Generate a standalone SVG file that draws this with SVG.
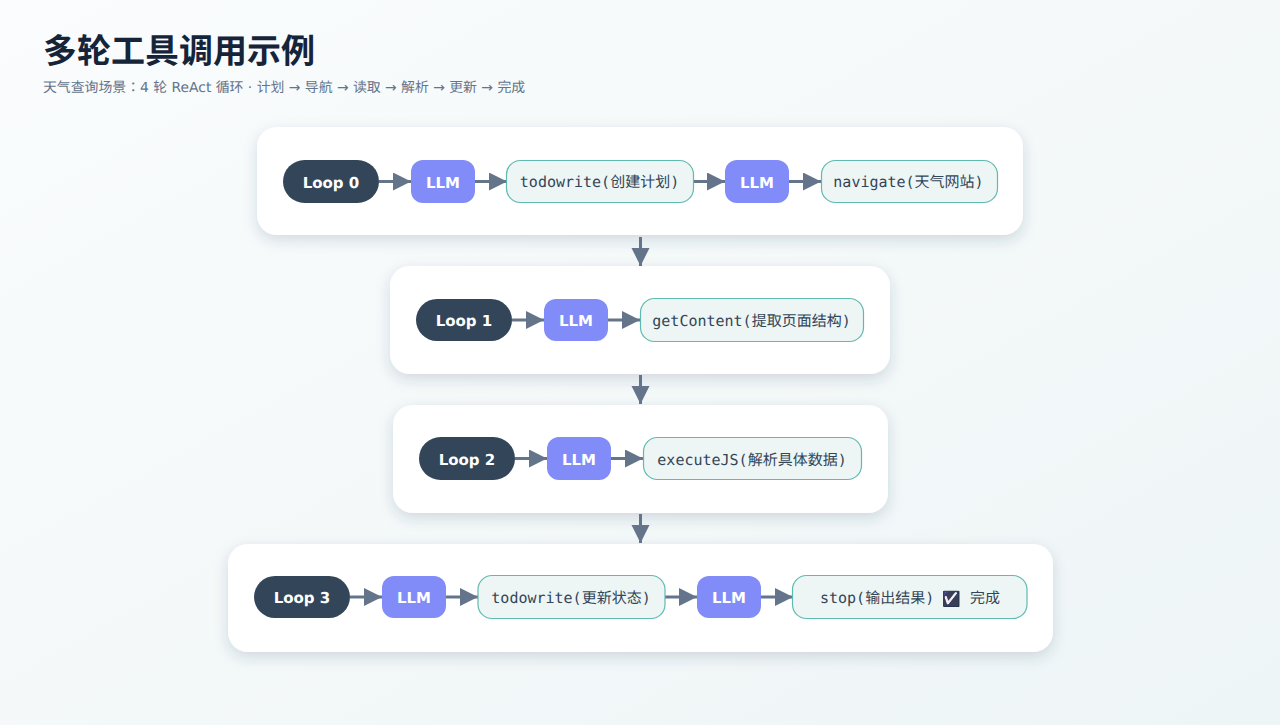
<svg xmlns="http://www.w3.org/2000/svg" width="1280" height="725" viewBox="0 0 1280 725">
<defs>
<linearGradient id="bg" x1="0" y1="0" x2="1" y2="1"><stop offset="0" stop-color="#fafcfd"/><stop offset="1" stop-color="#eef5f6"/></linearGradient>
<filter id="sh" x="-10%" y="-30%" width="120%" height="170%"><feDropShadow dx="0" dy="5" stdDeviation="7" flood-color="#334155" flood-opacity="0.17"/></filter>
<filter id="dark" x="-10%" y="-10%" width="120%" height="120%" color-interpolation-filters="sRGB"><feComponentTransfer><feFuncR type="table" tableValues="0.1 0.15 0.18 0.4 1"/><feFuncG type="table" tableValues="0.1 0.15 0.2 0.27 1"/><feFuncB type="table" tableValues="0.1 0.2 0.27 0.345 1"/></feComponentTransfer></filter>
<marker id="a" markerUnits="userSpaceOnUse" markerWidth="20" markerHeight="20" refX="18" refY="9" orient="auto"><path d="M0 0L18 9L0 18z" fill="#64748b"/></marker>
</defs>
<style>
text{font-family:"DejaVu Sans","Noto Sans CJK JP",sans-serif;text-rendering:geometricPrecision}
.card{fill:#fff;filter:url(#sh)}
.loop{fill:#334558}
.llm{fill:#818cf8}
.tool{fill:#edf6f4;stroke:#5fbab0;stroke-width:1.2}
.lt{font-size:15px;font-weight:700;fill:#fff;text-anchor:middle}
.tt{font-family:"DejaVu Sans Mono","Noto Sans CJK JP",monospace;font-size:15px;fill:#334558;text-anchor:middle}
.c{stroke:#64748b;stroke-width:3;fill:none;marker-end:url(#a)}
</style>
<rect width="1280" height="725" fill="url(#bg)"/>
<text x="43" y="63" font-size="34" font-weight="700" fill="#16243a">多轮工具调用示例</text>
<text x="43" y="92" font-size="13.860" fill="#64748b">天气查询场景：4 轮 ReAct 循环 · 计划 → 导航 → 读取 → 解析 → 更新 → 完成</text>
<rect class="card" x="257" y="127" width="766" height="108" rx="20"/>
<rect class="card" x="390" y="266" width="500" height="108" rx="20"/>
<rect class="card" x="393" y="405" width="495" height="108" rx="20"/>
<rect class="card" x="228" y="544" width="825" height="108" rx="20"/>
<g id="connectors">
<path class="c" d="M379 181.500H411"/><path class="c" d="M475 181.500H507"/><path class="c" d="M694 181.500H725"/><path class="c" d="M789 181.500H821"/>
<path class="c" d="M512 320H544"/><path class="c" d="M608 320H640"/>
<path class="c" d="M515 458.500H547"/><path class="c" d="M611 458.500H643"/>
<path class="c" d="M350 597H382"/><path class="c" d="M446 597H478"/><path class="c" d="M665 597H697"/><path class="c" d="M761 597H793"/>
<path class="c" d="M640.500 237V266"/><path class="c" d="M640.500 375V404"/><path class="c" d="M640.500 514V543"/>
</g>
<g id="loop0"><rect class="loop" x="283" y="160" width="96" height="43" rx="21.500"/><text class="lt" x="331" y="187.500">Loop 0</text></g>
<g id="llm0a"><rect class="llm" x="411" y="160" width="64" height="43" rx="12"/><text class="lt" x="443" y="187.500">LLM</text></g>
<g id="tool0a"><rect class="tool" x="506.500" y="160.500" width="187" height="42" rx="14"/><text class="tt" x="599.500" y="187">todowrite(创建计划)</text></g>
<g id="llm0b"><rect class="llm" x="725" y="160" width="64" height="43" rx="12"/><text class="lt" x="757" y="187.500">LLM</text></g>
<g id="tool0b"><rect class="tool" x="821.500" y="160.500" width="176" height="42" rx="14"/><text class="tt" x="908.500" y="187">navigate(天气网站)</text></g>
<g id="loop1"><rect class="loop" x="416" y="299" width="96" height="42" rx="21"/><text class="lt" x="464" y="326">Loop 1</text></g>
<g id="llm1"><rect class="llm" x="544" y="299" width="64" height="42" rx="12"/><text class="lt" x="576" y="326">LLM</text></g>
<g id="tool1"><rect class="tool" x="640.500" y="298.500" width="223" height="43" rx="14"/><text class="tt" x="751.500" y="326">getContent(提取页面结构)</text></g>
<g id="loop2"><rect class="loop" x="419" y="437" width="96" height="43" rx="21.500"/><text class="lt" x="467" y="465">Loop 2</text></g>
<g id="llm2"><rect class="llm" x="547" y="437" width="64" height="43" rx="12"/><text class="lt" x="579" y="465">LLM</text></g>
<g id="tool2"><rect class="tool" x="643.500" y="437.500" width="218" height="42" rx="14"/><text class="tt" x="752" y="465">executeJS(解析具体数据)</text></g>
<g id="loop3"><rect class="loop" x="254" y="576" width="96" height="42" rx="21"/><text class="lt" x="302" y="603">Loop 3</text></g>
<g id="llm3a"><rect class="llm" x="382" y="576" width="64" height="42" rx="12"/><text class="lt" x="414" y="603">LLM</text></g>
<g id="tool3a"><rect class="tool" x="478" y="575.500" width="187" height="43" rx="14"/><text class="tt" x="571" y="603">todowrite(更新状态)</text></g>
<g id="llm3b"><rect class="llm" x="697" y="576" width="64" height="42" rx="12"/><text class="lt" x="729" y="603">LLM</text></g>
<g id="tool3b"><rect class="tool" x="792.500" y="575.500" width="234.500" height="43" rx="14"/><text class="tt" x="820" y="603" style="text-anchor:start">stop(输出结果)</text><text x="942" y="604" font-size="15" filter="url(#dark)">☑&#xFE0F;</text><text class="tt" x="970" y="603" style="text-anchor:start">完成</text></g>
</svg>
